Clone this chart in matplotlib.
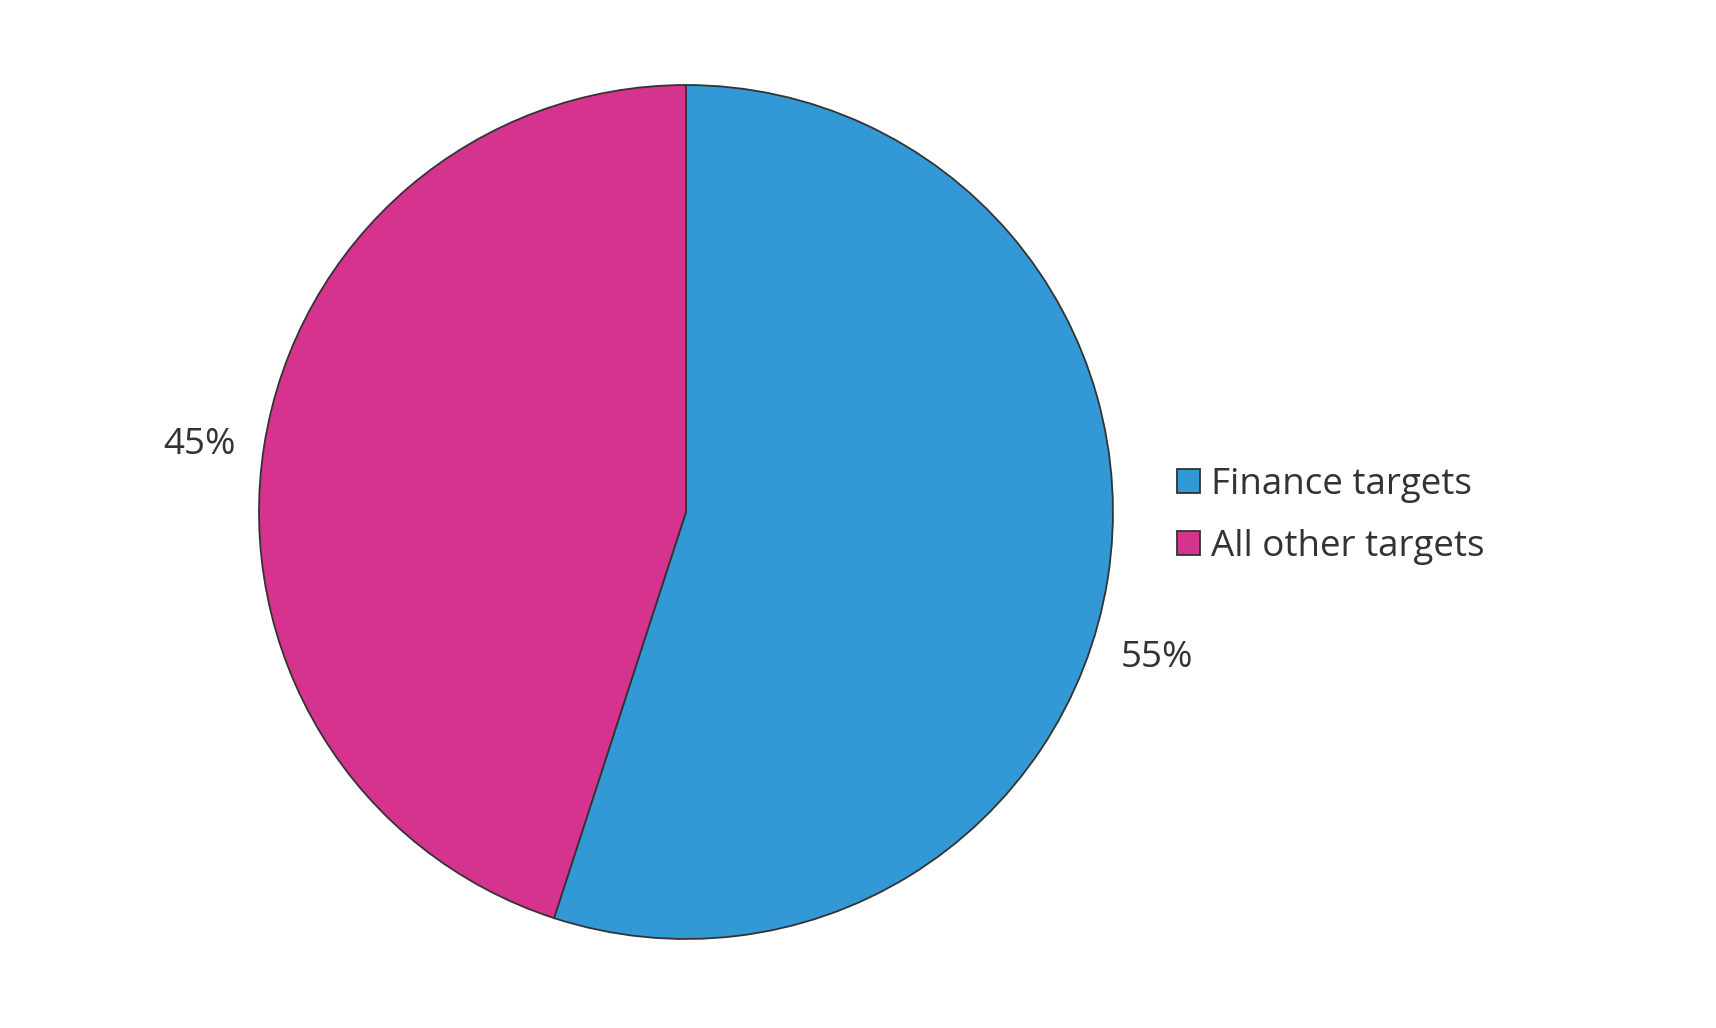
import numpy as np
import matplotlib.pyplot as plt

# data
labels = ['Finance targets', 'All other targets']
shares = [55, 45]
colors = ['#3399D6', '#D6338F']
# where the percentage labels sit, as (radius factor, angle in degrees)
label_polar = [(1.155, -17.2), (1.15, 172.1)]

plt.rcParams['font.family'] = ['Open Sans', 'DejaVu Sans']
text_color = '#333333'

fig = plt.figure(figsize=(17.16, 10.28), dpi=100)
ax = fig.add_axes([0.1509, 0.0866, 0.4977, 0.8307])

wedges, _ = ax.pie(shares, colors=colors, startangle=90, counterclock=False,
                   wedgeprops=dict(edgecolor='#333333', linewidth=1.3))
ax.set_xlim(-1, 1)
ax.set_ylim(-1, 1)
ax.set_aspect('equal')
ax.axis('off')

for val, (r, ang) in zip(shares, label_polar):
    a = np.deg2rad(ang)
    ax.text(r * np.cos(a), r * np.sin(a), f'{val}%', ha='center', va='center',
            fontsize=26.5, color=text_color, clip_on=False)

leg = fig.legend(wedges, labels, loc='center left',
                 bbox_to_anchor=(1177 / 1716, 1 - 516 / 1028),
                 frameon=False, fontsize=26.5, handlelength=0.63,
                 handleheight=0.63, handletextpad=0.3, labelspacing=0.7,
                 borderpad=0, borderaxespad=0)
for t in leg.get_texts():
    t.set_color(text_color)

fig.savefig('out.png', dpi=100)
